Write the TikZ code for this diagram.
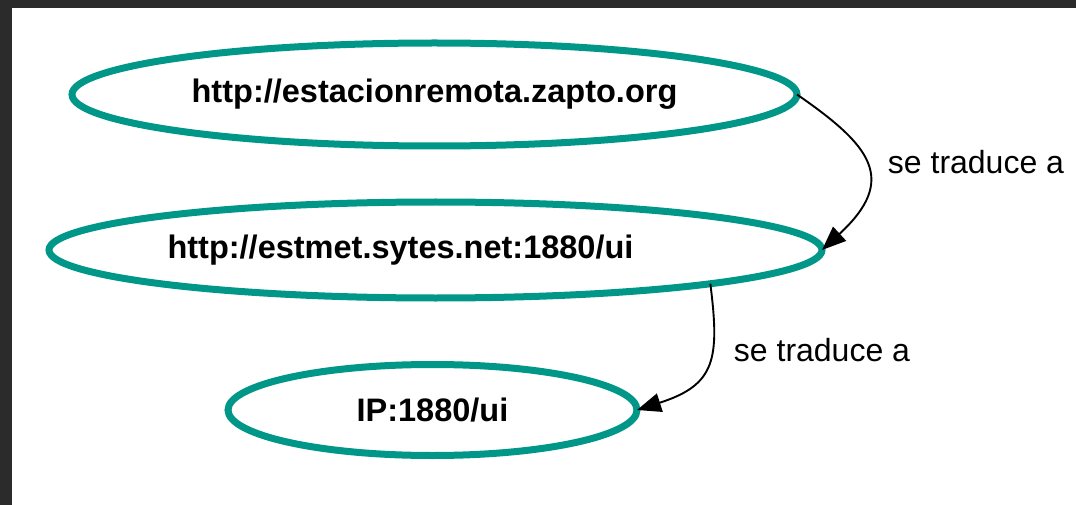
\documentclass[tikz,border=0pt]{standalone}
\usepackage{fontspec}
\setmainfont{Liberation Sans}
\usetikzlibrary{shapes.geometric,arrows.meta}
\definecolor{sarcelle}{RGB}{0,150,136}
\definecolor{cadre}{RGB}{43,43,43}
\begin{document}
\begin{tikzpicture}[x=1pt,y=1pt,
        adresse/.style={ellipse,draw=sarcelle,line width=7pt,outer sep=0pt,font=\fontsize{32.5}{39}\selectfont\bfseries},
        traduit/.style={line width=1.9pt,-{Triangle[length=24pt,width=19pt]}},
        etiquette/.style={font=\fontsize{32}{38}\selectfont}]
            \useasboundingbox (0,0) rectangle (1076,-505);
            \fill[cadre] (0,0) rectangle (1076,-8);
            \fill[cadre] (0,0) rectangle (12,-505);
            \node[adresse,minimum width=725pt,minimum height=103pt] (dns) at (434.5,-94.5) {http://estacionremota.zapto.org};
            \node[adresse,minimum width=773pt,minimum height=96pt] (estmet) at (435.5,-250) {http://estmet.sytes.net:1880/ui\kern70pt};%texte decale a gauche
            \node[adresse,minimum width=409pt,minimum height=91pt] (ip) at (432.5,-410) {IP:1880/ui};
            \draw[traduit] (dns.east) .. controls (870,-145) and (899,-179) .. (estmet.east);
            \draw[traduit] (estmet.-7.1) .. controls (720,-360) and (715,-385) .. (ip.east);
            \node[etiquette] (trad1) at (976,-162) {se traduce a};
            \node[etiquette] (trad2) at (822,-350) {se traduce a};
        \end{tikzpicture}
\end{document}
